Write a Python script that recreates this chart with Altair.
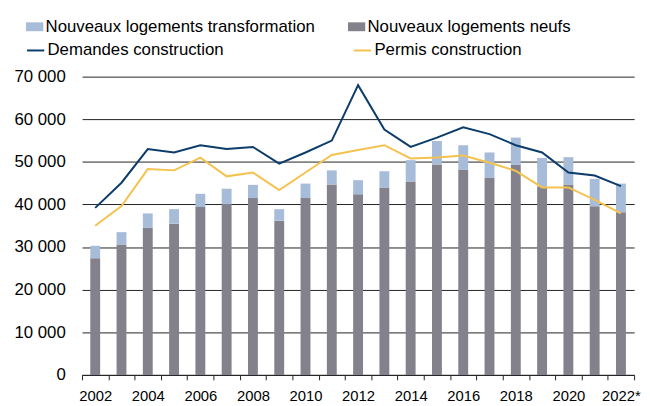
import altair as alt
import pandas as pd

years = [str(y) for y in range(2002, 2022)] + ["2022*"]

neufs = [27400, 30600, 34500, 35500, 39400, 40000, 41500, 36200, 41500, 44700, 42400,
         44000, 45400, 49400, 48100, 46300, 49300, 44100, 44700, 39600, 38200]
transformation = [2900, 2900, 3400, 3400, 3100, 3700, 3100, 2700, 3400, 3300, 3300,
                  3800, 5000, 5500, 5800, 5900, 6400, 6800, 6400, 6400, 6700]
demandes = [39200, 45100, 53000, 52200, 53900, 53000, 53500, 49600, 52200, 55000, 68000,
            57600, 53500, 55700, 58100, 56500, 53900, 52200, 47500, 46800, 44300]
permis = [35000, 39600, 48300, 48000, 51000, 46600, 47500, 43400, 47500, 51600, 52800,
          53900, 50800, 51000, 51500, 49800, 47900, 44000, 44000, 41100, 37900]

bar_names = ["Nouveaux logements transformation", "Nouveaux logements neufs"]
bar_colors = ["#a7bcd8", "#83828c"]
line_names = ["Demandes construction", "Permis construction"]
line_colors = ["#0c3c6a", "#f4c24e"]

bars = pd.DataFrame(
    [{"year": y, "serie": bar_names[1], "value": v, "rank": 0} for y, v in zip(years, neufs)]
    + [{"year": y, "serie": bar_names[0], "value": v, "rank": 1} for y, v in zip(years, transformation)]
)
lines = pd.DataFrame(
    [{"year": y, "serie": line_names[0], "value": v} for y, v in zip(years, demandes)]
    + [{"year": y, "serie": line_names[1], "value": v} for y, v in zip(years, permis)]
)

FONT = "Liberation Sans"

x = alt.X(
    "year:N",
    sort=years,
    title=None,
    scale=alt.Scale(paddingInner=0, paddingOuter=0),
    axis=alt.Axis(
        labelAngle=0,
        tickBand="extent",
        labelExpr="parseInt(datum.value) % 2 == 0 ? datum.value : ''",
        labelFontSize=15,
        labelColor="#000",
        labelPadding=9,
        tickColor="#222",
        tickSize=5,
        domainColor="#222",
        labelOverlap=False,
    ),
)

y_scale = alt.Scale(domain=[0, 70000])
y_axis = alt.Axis(
    values=[0, 10000, 20000, 30000, 40000, 50000, 60000, 70000],
    labelExpr="replace(format(datum.value, ','), ',', ' ')",
    labelFontSize=17,
    labelColor="#000",
    labelPadding=17,
    domain=False,
    ticks=False,
    grid=True,
    gridColor="#222",
    gridWidth=1,
    title=None,
)

bar_layer = alt.Chart(bars).mark_bar(width=10).encode(
    x=x,
    y=alt.Y("value:Q", stack="zero", scale=y_scale, axis=y_axis),
    fill=alt.Fill(
        "serie:N",
        scale=alt.Scale(domain=bar_names, range=bar_colors),
        legend=alt.Legend(
            title=None,
            orient="none",
            legendX=-57,
            legendY=-59.5,
            direction="horizontal",
            columns=2,
            columnPadding=32,
            symbolType="M-1,-0.514H1V0.514H-1Z",
            symbolSize=306,
            symbolStrokeWidth=0,
            labelFontSize=17,
            labelOffset=2,
            labelLimit=400,
        ),
    ),
    order=alt.Order("rank:Q"),
)

line_layer = alt.Chart(lines).mark_line(strokeWidth=2).encode(
    x=x,
    y=alt.Y("value:Q", scale=y_scale),
    stroke=alt.Stroke(
        "serie:N",
        scale=alt.Scale(domain=line_names, range=line_colors),
        legend=alt.Legend(
            title=None,
            orient="none",
            legendX=-57,
            legendY=-36.5,
            direction="horizontal",
            columns=2,
            columnPadding=127,
            symbolType="stroke",
            symbolSize=306,
            symbolStrokeWidth=2,
            labelFontSize=17,
            labelOffset=2,
            labelLimit=400,
        ),
    ),
)

chart = (
    alt.layer(bar_layer, line_layer)
    .properties(
        width=559,
        height=302,
        autosize=alt.AutoSizeParams(type="none"),
        padding={"left": 75, "top": 67, "right": 8, "bottom": 29},
    )
    .configure(font=FONT)
    .configure_view(stroke=None)
    .configure_legend(labelColor="#000", labelFont=FONT)
)

chart.save("out.html", embed_options={"renderer": "svg", "actions": False})
